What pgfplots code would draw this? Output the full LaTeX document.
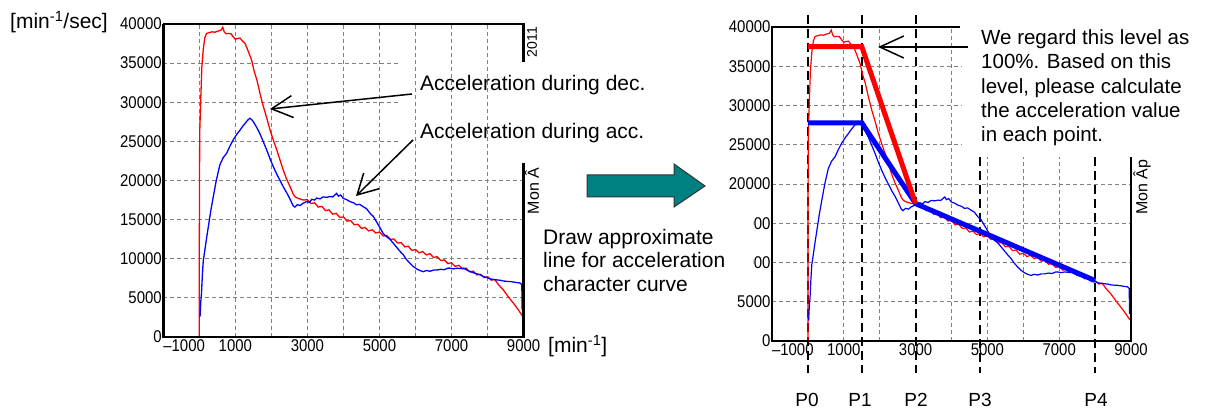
\documentclass[border=0pt]{standalone}
\usepackage{fontspec}
\setmainfont{Liberation Sans}
\newfontfamily\tickfont[FakeStretch=0.88]{Liberation Sans}
\usepackage{pgfplots}
\pgfplotsset{compat=1.18}
\usepackage{pgfplotstable}
\usetikzlibrary{arrows.meta}
\definecolor{tealarrow}{RGB}{0,128,128}
\definecolor{gridg}{RGB}{128,128,128}

\pgfplotstableread{
x y
0 0
0 12000
10 26000
40 30500
70 34500
110 36800
150 38200
200 38800
280 38900
350 39000
430 38950
520 39100
600 39200
650 39600
690 39000
740 38750
800 38800
880 38750
950 38300
1000 38050
1060 38150
1130 38200
1200 37800
1270 37500
1350 36600
1450 35400
1520 34000
1600 32800
1690 31000
1780 29400
1870 28000
1960 26500
2050 25200
2150 23900
2240 22600
2330 21300
2420 20200
2520 19200
2600 18300
2660 17900
2750 17700
2890 17500
3000 17550
3100 17050
3200 17150
3300 16600
3400 16700
3500 16150
3600 16250
3700 15700
3800 15800
3900 15280
4000 15350
4100 14800
4200 14880
4300 14340
4400 14400
4500 13880
4600 13990
4700 13560
4800 13700
4900 13280
5000 13420
5100 12920
5200 12980
5300 12480
5400 12530
5500 12010
5600 12060
5700 11520
5800 11590
5900 11060
6000 11180
6100 10750
6200 10920
6300 10490
6400 10650
6500 10160
6600 10260
6700 9780
6800 9850
6900 9380
7000 9490
7100 9030
7200 9160
7300 8700
7400 8810
7500 8330
7600 8420
7700 7940
7800 8020
7900 7580
8000 7710
8100 7260
8200 7350
8300 6700
8440 6000
8580 5100
8720 4300
8850 3500
8950 2800
9000 2650
}\reddata

\pgfplotstableread{
x y
20 2600
40 4500
60 5600
85 8000
110 9800
150 11000
190 12300
250 14100
320 16200
390 18000
470 20000
570 22000
660 22900
760 23500
850 24400
940 25200
1040 25900
1130 26450
1200 26900
1270 27300
1340 27700
1400 27950
1450 27800
1500 27500
1590 26800
1680 26000
1780 24900
1870 23900
1960 22800
2050 21800
2150 20800
2240 20000
2340 19100
2430 18400
2530 17500
2600 16800
2650 16600
2720 16900
2800 16800
2880 17100
2980 17300
3060 17200
3120 17600
3200 17500
3260 17750
3350 17650
3430 17900
3540 17850
3620 17950
3700 17900
3810 18350
3860 18000
3920 18150
4000 17700
4090 17550
4180 17300
4280 17150
4360 16900
4450 16950
4550 16650
4640 16400
4740 15800
4830 15400
4920 14700
5010 14000
5100 13250
5200 12800
5290 12500
5380 12000
5470 11500
5560 11000
5660 10500
5750 9900
5850 9400
5940 9000
6030 8700
6120 8500
6220 8350
6300 8500
6400 8400
6500 8550
6590 8550
6700 8650
6800 8600
6900 8800
6960 8800
7050 8700
7150 8800
7250 8750
7330 8800
7450 8500
7550 8300
7650 8150
7790 7950
7900 7700
8000 7550
8100 7400
8250 7300
8350 7250
8450 7150
8550 7100
8620 7100
8750 7000
8900 6900
8950 6700
8960 3450
}\bluedata

\tikzset{
  gridl/.style={gridg, line width=0.9pt, dash pattern=on 4pt off 3pt},
  pline/.style={black, line width=2pt, dash pattern=on 9pt off 5pt},
}
\pgfplotsset{
  myax/.style={
    scale only axis, anchor=south west,
    xmin=-1000, xmax=9000, ymin=0, ymax=40000,
    axis line style={draw=none}, clip=false,
    scaled x ticks=false, scaled y ticks=false,
    xtick={-1000,1000,3000,5000,7000,9000},
    xticklabels={\rlap{–1000},1000,3000,5000,7000,9000},
    ytick={0,5000,10000,15000,20000,25000,30000,35000,40000},
    yticklabels={0,5000,10000,15000,20000,25000,30000,35000,40000},
    major tick length=0pt,
    tick label style={font=\tickfont\fontsize{17}{17}\selectfont},
    xticklabel style={anchor=north, yshift=1pt},
    yticklabel style={anchor=east, xshift=2pt},
  },
}

\begin{document}
\begin{tikzpicture}[x=1pt,y=1pt]
\path[use as bounding box] (0,0) rectangle (1215,409);

% ---------------- left chart ----------------
\begin{axis}[myax, at={(163.3pt,72pt)}, width=360.3pt, height=313pt]
  \pgfplotsinvokeforeach{0,1000,2000,3000,4000,5000,6000,7000,8000}{
    \draw[gridl] (axis cs:#1,0) -- (axis cs:#1,40000);}
  \pgfplotsinvokeforeach{5000,10000,15000,20000}{
    \draw[gridl] (axis cs:-1000,#1) -- (axis cs:9000,#1);}
  \pgfplotsinvokeforeach{25000,30000,35000}{
    \draw[gridl] (axis cs:-1000,#1) -- (axis cs:5570,#1);}
  \addplot[red, line width=1.3pt, mark=none] table {\reddata};
  \addplot[blue, line width=1.3pt, mark=none] table {\bluedata};
  \draw[line width=2.5pt] (axis cs:-1000,40000) -- (axis cs:-1000,0) -- (axis cs:9000,0) -- (axis cs:9000,22240);
  \draw[line width=2.5pt] (axis cs:-1000,40000) -- (axis cs:9000,40000) -- (axis cs:9000,35140);
\end{axis}

% ---------------- right chart ----------------
\begin{axis}[myax, at={(772pt,68pt)}, width=359pt, height=314pt]
  \pgfplotsinvokeforeach{1000,2000,4000}{
    \draw[gridl] (axis cs:#1,0) -- (axis cs:#1,40000);}
  \pgfplotsinvokeforeach{5000,6000,7000}{
    \draw[gridl] (axis cs:#1,0) -- (axis cs:#1,23440);}
  \pgfplotsinvokeforeach{5000,10000,15000,20000}{
    \draw[gridl] (axis cs:-1000,#1) -- (axis cs:9000,#1);}
  \pgfplotsinvokeforeach{25000,30000,35000}{
    \draw[gridl] (axis cs:-1000,#1) -- (axis cs:4290,#1);}
  \pgfplotsinvokeforeach{0,1500,3000}{
    \draw[pline] (axis cs:#1,41530) -- (axis cs:#1,-4080);}
  \pgfplotsinvokeforeach{4800,8000}{
    \draw[pline] (axis cs:#1,23440) -- (axis cs:#1,-4080);}
  \addplot[red, line width=1.2pt, mark=none] table {\reddata};
  \addplot[blue, line width=1.2pt, mark=none] table {\bluedata};
  \addplot[blue, line width=5pt, mark=none] coordinates {(0,27800) (1500,27800) (3000,17500) (8000,7700)};
  \addplot[red, line width=5pt, mark=none] coordinates {(0,37500) (1500,37500) (3000,17500)};
  \draw[line width=2.5pt] (axis cs:4240,40000) -- (axis cs:-1000,40000) -- (axis cs:-1000,0) -- (axis cs:9000,0) -- (axis cs:9000,23440);
\end{axis}

% cover of partly hidden tick labels
\fill[white] (690,137) rectangle (752.5,197);

% ---------------- texts and arrows ----------------
\node[anchor=west, inner sep=0pt, font=\fontsize{21}{24}\selectfont] at (10,387) {[min\textsuperscript{-1}/sec]};
\node[anchor=west, inner sep=0pt, font=\fontsize{21}{24}\selectfont] at (548,63) {[min\textsuperscript{-1}]};
\node[anchor=west, inner sep=0pt, font=\fontsize{21}{24}\selectfont] at (420,324) {Acceleration during dec.};
\node[anchor=west, inner sep=0pt, font=\fontsize{21}{24}\selectfont] at (420,276) {Acceleration during acc.};
\draw[line width=1.5pt, -{Straight Barb[length=21pt, width=22pt]}] (412,315) -- (270,300);
\draw[line width=1.5pt, -{Straight Barb[length=20pt, width=22pt]}] (413,269) -- (356,213);

\node[rotate=90, inner sep=0pt, font=\fontsize{14}{14}\selectfont] at (532,367) {2011};
\node[rotate=90, inner sep=0pt, font=\fontsize{16}{16}\selectfont] at (532,218) {Mon Â};
\node[rotate=90, inner sep=0pt, font=\fontsize{16}{16}\selectfont] at (1142,222) {Mon Âp};

\filldraw[fill=tealarrow, draw=black!80, line width=1pt]
  (587,234) -- (674,234) -- (674,245) -- (705,223) -- (674,202) -- (674,212) -- (587,212) -- cycle;

\node[anchor=west, align=left, inner sep=0pt, font=\fontsize{21}{23.5}\selectfont] at (543,149)
  {Draw approximate\\line for acceleration\\character curve};

\node[anchor=west, align=left, inner sep=0pt, font=\fontsize{20.5}{24.3}\selectfont] at (981,321)
  {We regard this level as\\100\%. Based on this\\level, please calculate\\the acceleration value\\in each point.};
\draw[line width=1.5pt, -{Straight Barb[length=24pt, width=22pt]}] (968,362) -- (878,362);

\foreach \px/\lab in {807/P0, 860/P1, 916/P2, 980/P3, 1096/P4}
  \node[font=\fontsize{19}{19}\selectfont, inner sep=0pt] at (\px,9) {\lab};
\end{tikzpicture}
\end{document}
